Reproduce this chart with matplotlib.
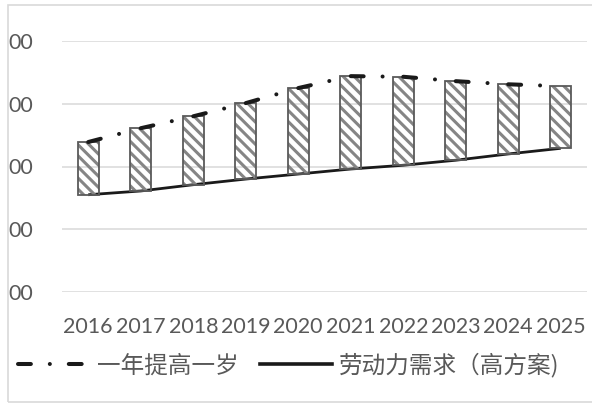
import matplotlib
matplotlib.use("Agg")
import matplotlib.pyplot as plt
from matplotlib.patches import Rectangle
from matplotlib.lines import Line2D
import numpy as np

# Data
years = ["2016", "2017", "2018", "2019", "2020", "2021", "2022", "2023", "2024", "2025"]
raise_one_year = [7878, 7922, 7960, 8002, 8050, 8088, 8086, 8072, 8062, 8056]
labor_demand_high = [7710, 7722, 7742, 7760, 7776, 7792, 7804, 7820, 7840, 7858]
ytick_values = [7400, 7600, 7800, 8000, 8200]
ytick_labels = ["00", "00", "00", "00", "00"]
series_names = ["一年提高一岁", "劳动力需求（高方案)"]

W, H = 592, 407
plt.rcParams["hatch.linewidth"] = 2.2
fig = plt.figure(figsize=(W / 100, H / 100), dpi=100)
ax = fig.add_axes([62 / W, (H - 292) / H, 525 / W, 251 / H])

x = np.arange(len(years))
tops = np.array(raise_one_year)
bottoms = np.array(labor_demand_high)

grid_c = "#d9d9d9"
text_c = "#595959"
line_c = "#1a1a1a"

for v in ytick_values:
    ax.axhline(v, color=grid_c, lw=1.1, zorder=0)

# Up/down bars between the two series
ax.bar(x, tops - bottoms, bottom=bottoms, width=0.4, facecolor="none",
       edgecolor="#858585", linewidth=0, hatch="\\\\\\", zorder=2)
ax.bar(x, tops - bottoms, bottom=bottoms, width=0.4, facecolor="none",
       edgecolor="#5a5a5a", linewidth=1.3, zorder=3)

lw_dd = 2.9
dash_style = (0, (3.2, 4.7, 0.01, 4.7))
ax.plot(x, labor_demand_high, color=line_c, lw=2.0, zorder=1,
        solid_capstyle="butt")
# dash-dot pattern restarts at every category point
for i in range(len(x) - 1):
    ax.plot(x[i:i + 2], raise_one_year[i:i + 2], color=line_c, lw=lw_dd,
            linestyle=(0, (3.2, 4.7, 0.01, 20)), dash_capstyle="round",
            zorder=4)

ax.set_xlim(-0.5, len(years) - 0.5)
ax.set_ylim(ytick_values[0], ytick_values[-1])
ax.set_xticks(x)
ax.set_xticklabels(years)
ax.set_yticks(ytick_values)
ax.set_yticklabels(ytick_labels)
ax.tick_params(axis="both", length=0, colors=text_c, labelsize=15.5)
ax.tick_params(axis="x", pad=18)
ax.tick_params(axis="y", pad=21)
for lab in ax.get_xticklabels() + ax.get_yticklabels():
    lab.set_fontfamily("Lato")
for s in ax.spines.values():
    s.set_visible(False)
ax.set_facecolor("none")

# Chart frame
fig.add_artist(Rectangle((8 / W, 5 / H), 1.2, (402 - 5) / H,
                         transform=fig.transFigure, fill=False,
                         edgecolor=grid_c, lw=1.2))

handles = [
    Line2D([], [], color=line_c, lw=lw_dd, linestyle=dash_style,
           dash_capstyle="round"),
    Line2D([], [], color=line_c, lw=2.6),
]
leg = fig.legend(handles, series_names, loc="center left",
                 bbox_to_anchor=(18 / W, 1 - 365 / H), ncol=2, frameon=False,
                 borderpad=0, borderaxespad=0, handlelength=3.05,
                 handletextpad=0.3, columnspacing=0.9,
                 prop={"family": ["Noto Sans CJK SC", "DejaVu Sans"],
                       "size": 17, "weight": "light"})
for t in leg.get_texts():
    t.set_color(text_c)

fig.savefig("out.png", dpi=100)
